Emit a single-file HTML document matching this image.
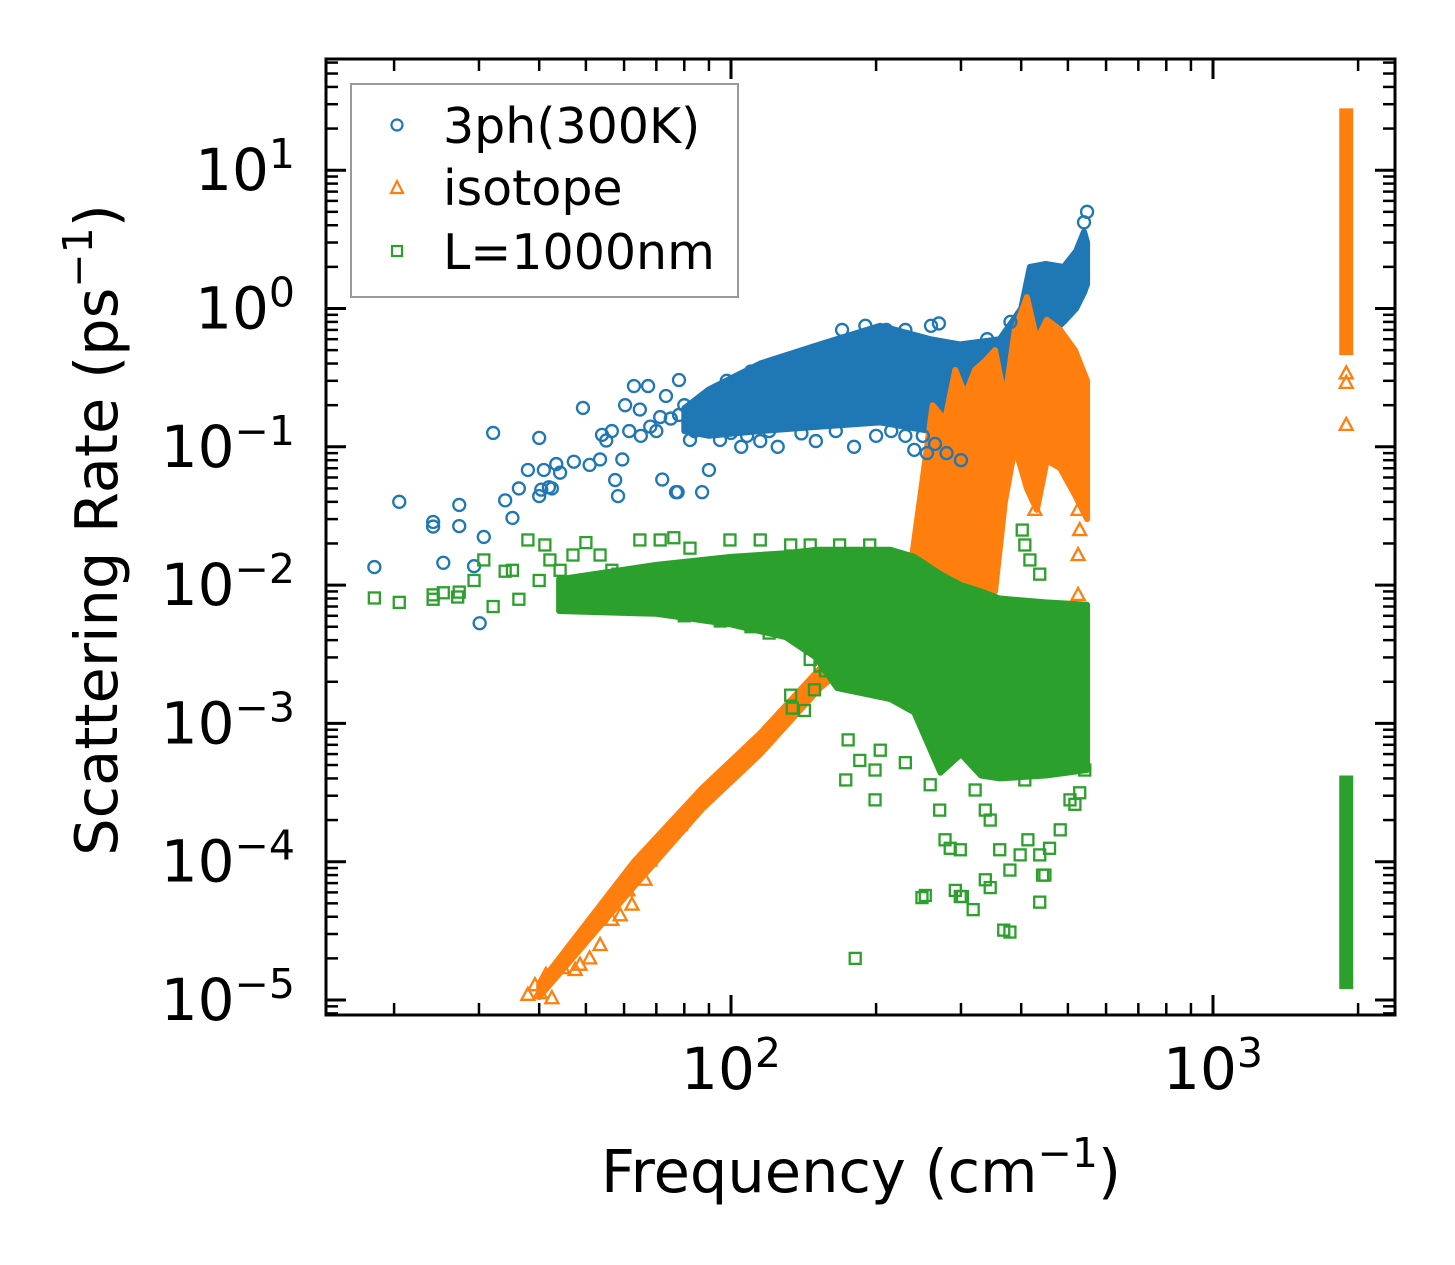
<!DOCTYPE html>
<html><head><meta charset="utf-8"><style>
html,body{margin:0;padding:0;background:#fff;}
svg{display:block;font-family:"DejaVu Sans","Liberation Sans",sans-serif;}
</style></head><body>
<svg id="chart" width="1455" height="1265" viewBox="0 0 1455 1265" xmlns="http://www.w3.org/2000/svg">
<rect width="1455" height="1265" fill="#fff"/>
<g id="bands"></g>
<g id="marks"></g>
<g id="axes"></g>
<text x="861" y="1192" font-size="59" text-anchor="middle">Frequency (cm<tspan font-size="41" dy="-25">−1</tspan><tspan dy="25">)</tspan></text>
<text transform="translate(117,530) rotate(-90)" font-size="59" text-anchor="middle">Scattering Rate (ps<tspan font-size="41" dy="-25">−1</tspan><tspan dy="25">)</tspan></text>
<g>
<rect x="351" y="84" width="387" height="213" fill="#fff" fill-opacity="0.85" stroke="#999" stroke-width="2"/>
<circle cx="397" cy="125" r="5.5" fill="none" stroke="#1f77b4" stroke-width="2.2"/>
<text x="443" y="143" font-size="49">3ph(300K)</text>
<polygon points="397,181 403,193 391,193" fill="none" stroke="#ff7f0e" stroke-width="2.2"/>
<text x="443" y="205" font-size="49">isotope</text>
<rect x="392" y="246" width="10" height="10" fill="none" stroke="#2ca02c" stroke-width="2.2"/>
<text x="443" y="269" font-size="49">L=1000nm</text>
</g>
</svg>
<script>
// ---- data ----
const blueBand = [[80,0.13,0.19],[90,0.12,0.26],[115,0.13,0.4],[153,0.14,0.55],[204,0.15,0.75],[259,0.13,0.6],[299,0.15,0.55],[361,0.2,0.6],[400,0.3,1.0],[417,0.5,2.0],[450,0.6,2.1],[490,0.8,2.0],[520,1.0,2.6],[540,1.3,3.6],[548,1.5,3.0]];
const bluePoints = [[18.2,0.0135],[20.5,0.040],[24.1,0.0286],[24.1,0.0265],[25.3,0.0145],[27.3,0.0267],[27.3,0.038],[29.3,0.0137],[30.1,0.0053],[30.7,0.0223],[32.1,0.126],[34.0,0.041],[35.2,0.0306],[36.3,0.050],[37.9,0.068],[40.0,0.044],[40.0,0.116],[40.4,0.049],[40.9,0.068],[41.9,0.051],[42.5,0.05],[43.4,0.075],[44.2,0.065],[47.2,0.078],[49.3,0.191],[50.9,0.074],[53.5,0.081],[54,0.122],[55.1,0.111],[56.6,0.13],[57.5,0.0575],[58.3,0.044],[59.5,0.081],[60.3,0.2],[61.5,0.13],[62.9,0.275],[64.7,0.186],[67.3,0.275],[71.3,0.164],[72,0.058],[73.3,0.233],[76.9,0.047],[77.5,0.047],[78,0.304],[82.2,0.112],[87.1,0.047],[90,0.068],[94.9,0.112],[100,0.126],[115,0.11],[150,0.11],[180,0.1],[200,0.12],[240,0.095],[250,0.12],[255,0.09],[265,0.105],[280,0.09],[300,0.08],[548,5.0],[110,0.35],[130,0.42],[170,0.7],[190,0.75],[210,0.7],[230,0.7],[260,0.75],[270,0.78],[340,0.6],[380,0.8],[65,0.12],[68,0.14],[70,0.13],[75,0.16],[78,0.17],[80,0.2],[85,0.15],[88,0.22],[92,0.18],[96,0.25],[98,0.3],[105,0.1],[125,0.1],[540,4.2],[84,0.13],[86,0.17],[95,0.14],[108,0.12],[120,0.13],[140,0.125],[165,0.13],[215,0.13],[230,0.12]];
const orangeBand = [[40,1.05e-5,1.3e-5],[62.9,6.6e-5,1.0e-4],[87.1,2.4e-4,3.4e-4],[115,6.0e-4,8.5e-4],[153,1.8e-3,2.5e-3],[194,3.6e-3,5.2e-3],[224,4.0e-3,5.6e-3],[237,4.5e-3,0.0152],[253,5.5e-3,0.08],[262,6e-3,0.20],[278,7e-3,0.156],[292,7.5e-3,0.36],[306,8e-3,0.237],[321,8e-3,0.36],[337,8.5e-3,0.42],[353,9e-3,0.5],[370,0.04,0.218],[388,0.1,0.7],[411,0.05,1.21],[431,0.035,0.59],[452,0.08,0.83],[482,0.07,0.7],[517,0.045,0.5],[548,0.03,0.3]];
const orangePoints = [[37.9,1.09e-5],[39.2,1.28e-5],[40.2,1.12e-5],[41.3,1.52e-5],[42.5,1.03e-5],[44.8,1.7e-5],[47.5,1.65e-5],[48.6,1.8e-5],[50.9,2.0e-5],[53.5,2.5e-5],[54.2,4.3e-5],[56.6,3.8e-5],[58.9,4.1e-5],[61.1,6.2e-5],[62.3,4.9e-5],[66.3,7.4e-5],[67.9,1.02e-4],[69.5,1.22e-4],[72.9,1.43e-4],[78.4,1.84e-4],[427,0.035],[525,0.0575],[525,0.035],[529,0.025],[525,0.0165],[525,0.0085],[1890,0.144],[1890,0.29],[1890,0.34]];
const orangeColumn = [1890, 0.46, 28];
const greenBand = [[44,0.0065,0.011],[70,0.0062,0.014],[100,0.0052,0.016],[130,0.0042,0.017],[150,0.003,0.018],[166,0.0018,0.018],[214,0.0015,0.018],[240,0.0012,0.016],[272,0.00044,0.012],[300,0.0006,0.01],[330,0.00042,0.009],[361,0.0004,0.008],[450,0.00042,0.0075],[548,0.00046,0.0072]];
const greenPoints = [[18.2,8.07e-3],[20.5,7.5e-3],[24.1,8.5e-3],[24.1,7.9e-3],[25.3,8.8e-3],[27.1,8.2e-3],[27.3,8.9e-3],[29.3,1.08e-2],[30.7,1.52e-2],[32.1,7.0e-3],[34.0,1.26e-2],[35.2,1.28e-2],[36.3,7.9e-3],[37.9,0.0212],[40.0,1.08e-2],[41.1,0.0195],[42.1,0.0152],[44.2,0.0128],[47.0,0.0165],[50.0,0.0203],[53.5,0.0165],[56.6,0.0128],[58.3,0.012],[64.7,0.0212],[71.3,0.0212],[76.1,0.022],[82.2,0.0185],[99.5,0.0212],[115,0.0212],[133,0.0195],[146,0.0195],[168,0.0195],[194,0.0195],[402,0.025],[407,0.0195],[417,0.0152],[437,0.012],[173,3.9e-4],[199,4.6e-4],[204,6.4e-4],[175,7.6e-4],[185,5.4e-4],[181,2.0e-5],[199,2.8e-4],[230,5.2e-4],[259,3.6e-4],[271,2.36e-4],[278,1.44e-4],[285,1.25e-4],[292,6.2e-5],[299,1.22e-4],[321,3.3e-4],[337,2.36e-4],[345,2.0e-4],[361,1.22e-4],[379,8.7e-5],[398,1.12e-4],[407,3.9e-4],[413,1.44e-4],[437,1.12e-4],[448,8.0e-5],[458,1.25e-4],[482,1.7e-4],[505,2.8e-4],[517,2.6e-4],[529,3.15e-4],[542,4.6e-4],[368,3.2e-5],[379,3.1e-5],[318,4.5e-5],[345,6.5e-5],[337,7.4e-5],[437,5.1e-5],[443,8.0e-5],[253,5.7e-5],[249,5.5e-5],[299,5.6e-5],[302,5.6e-5],[134,1.29e-3],[133,1.6e-3],[142,1.24e-3],[149,1.75e-3],[153,2.6e-3],[157,2.4e-3],[146,2.9e-3],[120,0.0045],[110,0.005],[95,0.0055],[80,0.006],[60,0.0068]];
const greenColumn = [1890, 1.2e-5, 4.2e-4];
const xMajorTicks = [100, 1000];
const xMinorTicks = [20,30,40,50,60,70,80,90,200,300,400,500,600,700,800,900,2000];
const yMajorExp = [1,0,-1,-2,-3,-4,-5];
const xMajorExp = [2,3];

// ---- scales ----
const X = f => 731 + (Math.log10(f) - 2) * 482;
const Y = r => 1000 - (Math.log10(r) + 5) * 138.3;
const NS = "http://www.w3.org/2000/svg";
const L = 326, R = 1395, T = 59, B = 1015;
const C = {blue:"#1f77b4", orange:"#ff7f0e", green:"#2ca02c"};

function mk(tag, attrs, parent){
  const e = document.createElementNS(NS, tag);
  for (const k in attrs) e.setAttribute(k, attrs[k]);
  parent.appendChild(e);
  return e;
}
const bandsG = document.getElementById('bands');
const marksG = document.getElementById('marks');
const axesG = document.getElementById('axes');

function band(data, color, name){
  const top = data.map(d => X(d[0]).toFixed(1)+','+Y(d[2]).toFixed(1));
  const bot = data.slice().reverse().map(d => X(d[0]).toFixed(1)+','+Y(d[1]).toFixed(1));
  const p = mk('polygon', {points: top.concat(bot).join(' '), fill: color, stroke: color, 'stroke-width': 6, 'stroke-linejoin':'round'}, bandsG);
  
  
}
function column(col, color, name){
  const x = X(col[0]);
  const r = mk('rect', {x: x-7, y: Y(col[2]), width: 14, height: Y(col[1]) - Y(col[2]), fill: color}, bandsG);
  
  
}
function marker(kind, f, r, color, name){
  const x = X(f), y = Y(r);
  let e;
  if (kind === 'o') e = mk('circle', {cx:x, cy:y, r:6, fill:'none', stroke:color, 'stroke-width':2.3}, marksG);
  else if (kind === '^') e = mk('polygon', {points:`${x},${y-7} ${x+6.5},${y+5} ${x-6.5},${y+5}`, fill:'none', stroke:color, 'stroke-width':2.3}, marksG);
  else e = mk('rect', {x:x-5.5, y:y-5.5, width:11, height:11, fill:'none', stroke:color, 'stroke-width':2.3}, marksG);
  
  
}

band(blueBand, C.blue, 'band-3ph');
bluePoints.forEach(p => marker('o', p[0], p[1], C.blue, 'point-3ph'));
band(orangeBand, C.orange, 'band-isotope');
column(orangeColumn, C.orange, 'column-isotope');
orangePoints.forEach(p => marker('^', p[0], p[1], C.orange, 'point-isotope'));
band(greenBand, C.green, 'band-boundary');
column(greenColumn, C.green, 'column-boundary');
greenPoints.forEach(p => marker('s', p[0], p[1], C.green, 'point-boundary'));

// ---- axes ----
const frame = mk('rect', {x:L, y:T, width:R-L, height:B-T, fill:'none', stroke:'#000', 'stroke-width':3}, axesG);



function tickLine(x1,y1,x2,y2,w,name){
  const t = mk('line', {x1,y1,x2,y2, stroke:'#000', 'stroke-width':w}, axesG);
  
  
}
xMajorTicks.forEach(v => { const x = X(v); tickLine(x,B,x,B-20,3,'x-major-tick'); tickLine(x,T,x,T+20,3,'x-major-tick-top'); });
xMinorTicks.forEach(v => { const x = X(v); if (x<=L||x>=R) return; tickLine(x,B,x,B-12,2.5,'x-minor-tick'); tickLine(x,T,x,T+12,2.5,'x-minor-tick-top'); });
for (let e = -6; e <= 2; e++){
  for (let m = 1; m <= 9; m++){
    const y = Y(m * Math.pow(10, e));
    if (y < T+1 || y > B-1) continue;
    const len = m === 1 ? 20 : 12, w = m === 1 ? 3 : 2.5;
    tickLine(L,y,L+len,y,w, m===1?'y-major-tick':'y-minor-tick');
    tickLine(R,y,R-len,y,w, m===1?'y-major-tick-right':'y-minor-tick-right');
  }
}
yMajorExp.forEach(e => {
  const y = Y(Math.pow(10, e));
  const t = mk('text', {x:295, y:y+20, 'font-size':58, 'text-anchor':'end'}, axesG);
  
  
  const b = mk('tspan', {}, t); b.textContent = '10';
  const s = mk('tspan', {'font-size':41, dy:-22}, t); s.textContent = e < 0 ? '−' + (-e) : String(e);
});
xMajorExp.forEach(e => {
  const x = X(Math.pow(10, e));
  const t = mk('text', {x:x, y:1089, 'font-size':58, 'text-anchor':'middle'}, axesG);
  
  
  const b = mk('tspan', {}, t); b.textContent = '10';
  const s = mk('tspan', {'font-size':41, dy:-22}, t); s.textContent = String(e);
});
</script>
</body></html>
